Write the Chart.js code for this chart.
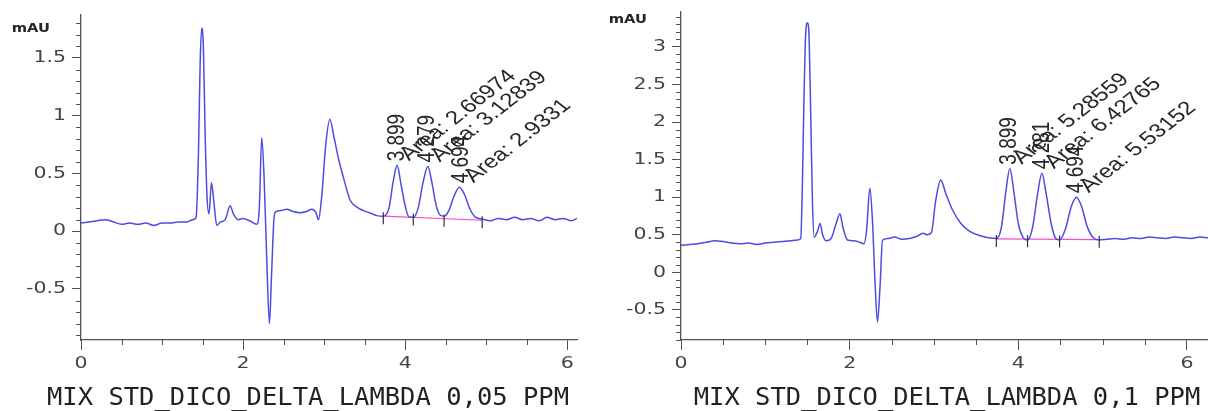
<!DOCTYPE html>
<html>
<head>
<meta charset="utf-8">
<script src="https://cdn.jsdelivr.net/npm/chart.js@4.4.1/dist/chart.umd.min.js"></script>
<style>
  html, body { margin: 0; padding: 0; background: #ffffff; }
  #wrap { position: relative; width: 1208px; height: 411px; overflow: hidden; background: #fff; }
  #c1 { position: absolute; left: 0; top: 0; }
  #c2 { position: absolute; left: 600px; top: 0; }
</style>
</head>
<body>
<div id="wrap">
  <canvas id="c1" width="600" height="411"></canvas>
  <canvas id="c2" width="608" height="411"></canvas>
</div>
<script>
// ---------------- DATA ----------------
// Panel 1 : MIX STD_DICO_DELTA_LAMBDA 0,05 PPM
const leftTime = [0.00,0.10,0.20,0.30,0.40,0.50,0.60,0.70,0.80,0.90,1.00,1.10,1.20,1.30,1.38,1.42,1.45,1.47,1.49,1.51,1.53,1.555,1.58,1.61,1.64,1.675,1.72,1.78,1.84,1.88,1.94,2.00,2.08,2.17,2.20,2.23,2.26,2.29,2.325,2.35,2.38,2.40,2.47,2.54,2.62,2.70,2.78,2.85,2.90,2.93,2.97,3.02,3.07,3.12,3.18,3.24,3.32,3.40,3.48,3.56,3.65,3.73,3.80,3.85,3.90,3.95,4.00,4.05,4.10,4.16,4.22,4.28,4.33,4.38,4.43,4.48,4.54,4.60,4.67,4.73,4.80,4.87,4.95,5.05,5.15,5.25,5.35,5.45,5.55,5.65,5.75,5.85,5.95,6.05,6.12];
const leftSignal = [0.07,0.08,0.09,0.10,0.08,0.06,0.07,0.06,0.07,0.05,0.07,0.07,0.08,0.08,0.10,0.12,0.70,1.45,1.76,1.60,0.90,0.30,0.15,0.42,0.25,0.05,0.08,0.10,0.22,0.15,0.10,0.11,0.09,0.06,0.20,0.81,0.45,-0.20,-0.80,-0.40,0.10,0.165,0.18,0.19,0.17,0.16,0.17,0.19,0.16,0.10,0.30,0.75,0.97,0.82,0.62,0.46,0.27,0.21,0.18,0.16,0.135,0.13,0.20,0.42,0.57,0.40,0.22,0.12,0.12,0.20,0.42,0.56,0.42,0.23,0.14,0.13,0.18,0.30,0.38,0.32,0.19,0.12,0.105,0.09,0.11,0.10,0.12,0.10,0.11,0.09,0.12,0.10,0.11,0.09,0.11];
const leftPeakRT = [3.899, 4.279, 4.694];
const leftPeakArea = [2.66974, 3.12839, 2.9331];
const leftBounds = [3.73, 4.10, 4.48, 4.95];
const leftBaseX = [3.73, 4.95];
const leftBaseY = [0.13, 0.095];
const leftYTicks = [-0.5, 0, 0.5, 1, 1.5];
const leftTitle = "MIX STD_DICO_DELTA_LAMBDA 0,05 PPM";

// Panel 2 : MIX STD_DICO_DELTA_LAMBDA 0,1 PPM
const rightTime = [0.00,0.10,0.20,0.30,0.40,0.50,0.60,0.70,0.80,0.90,1.00,1.10,1.20,1.30,1.38,1.42,1.44,1.46,1.48,1.50,1.52,1.54,1.56,1.58,1.62,1.65,1.68,1.72,1.78,1.84,1.885,1.92,1.975,2.05,2.12,2.17,2.20,2.24,2.27,2.30,2.33,2.36,2.39,2.46,2.53,2.62,2.71,2.80,2.87,2.92,2.97,3.02,3.08,3.14,3.22,3.32,3.42,3.54,3.65,3.74,3.80,3.85,3.90,3.95,4.00,4.06,4.11,4.17,4.23,4.28,4.33,4.39,4.44,4.49,4.56,4.63,4.69,4.75,4.82,4.89,4.96,5.05,5.15,5.25,5.35,5.45,5.55,5.65,5.75,5.85,5.95,6.05,6.15,6.25];
const rightSignal = [0.36,0.37,0.38,0.40,0.42,0.41,0.39,0.38,0.39,0.37,0.39,0.40,0.41,0.42,0.43,0.45,1.20,2.40,3.20,3.32,3.10,2.00,0.90,0.47,0.55,0.65,0.50,0.42,0.45,0.65,0.78,0.60,0.43,0.42,0.40,0.38,0.55,1.12,0.70,-0.10,-0.66,-0.20,0.43,0.45,0.47,0.44,0.45,0.48,0.52,0.50,0.53,0.95,1.23,1.05,0.83,0.65,0.55,0.49,0.46,0.45,0.60,1.05,1.38,1.05,0.65,0.46,0.43,0.60,1.05,1.32,1.05,0.65,0.46,0.43,0.58,0.88,1.00,0.88,0.60,0.46,0.43,0.44,0.45,0.44,0.46,0.45,0.47,0.46,0.45,0.47,0.46,0.45,0.47,0.46];
const rightPeakRT = [3.899, 4.281, 4.694];
const rightPeakArea = [5.28559, 6.42765, 5.53152];
const rightBounds = [3.74, 4.11, 4.49, 4.96];
const rightBaseX = [3.74, 4.96];
const rightBaseY = [0.445, 0.435];
const rightYTicks = [-0.5, 0, 0.5, 1, 1.5, 2, 2.5, 3];
const rightTitle = "MIX STD_DICO_DELTA_LAMBDA 0,1 PPM";

const xTicks = [0, 2, 4, 6];
const yUnit = "mAU";

// ---------------- helpers ----------------
function pts(xs, ys) { return xs.map((x, i) => ({ x: x, y: ys[i] })); }

const AXIS_COLOR = '#505050';
const LABEL_COLOR = '#444444';
const STRETCH = 1.28;   // the reference picture is widened horizontally

function stretchedText(ctx, text, x, y, align, baseline, font, color) {
  ctx.save();
  ctx.translate(x, y);
  ctx.scale(STRETCH, 1);
  ctx.font = font;
  ctx.fillStyle = color;
  ctx.textAlign = align;
  ctx.textBaseline = baseline;
  ctx.fillText(text, 0, 0);
  ctx.restore();
}

const chromPlugin = {
  id: 'chrom',
  afterDatasetsDraw(chart, args, o) {
    const ctx = chart.ctx;
    const xs = chart.scales.x, ys = chart.scales.y;
    // peak boundary marks
    ctx.save();
    ctx.strokeStyle = '#333';
    ctx.lineWidth = 1.2;
    o.bounds.forEach(b => {
      const t = (b - o.baseX[0]) / (o.baseX[1] - o.baseX[0]);
      const by = o.baseY[0] + t * (o.baseY[1] - o.baseY[0]);
      const px = xs.getPixelForValue(b), py = ys.getPixelForValue(by);
      ctx.beginPath();
      ctx.moveTo(px, py - 4);
      ctx.lineTo(px, py + 8);
      ctx.stroke();
    });
    ctx.restore();
    // peak annotations
    ctx.save();
    ctx.fillStyle = '#262626';
    ctx.font = '19px "Liberation Sans", Arial, sans-serif';
    o.rt.forEach((rt, i) => {
      let top = -Infinity;
      o.time.forEach((t, k) => { if (Math.abs(t - rt) < 0.06 && o.signal[k] > top) top = o.signal[k]; });
      const px = xs.getPixelForValue(rt), py = ys.getPixelForValue(top);
      ctx.save();
      ctx.translate(px, py - 4);
      ctx.scale(STRETCH, 1);
      ctx.rotate(-Math.PI / 2);
      ctx.textAlign = 'left';
      ctx.textBaseline = 'middle';
      ctx.fillText(rt.toFixed(3), 0, 0);
      ctx.restore();
      ctx.save();
      ctx.translate(px + 12, py - 4);
      ctx.scale(STRETCH, 1);
      ctx.rotate(-Math.PI / 4);
      ctx.textAlign = 'left';
      ctx.textBaseline = 'alphabetic';
      ctx.fillText('Area: ' + String(o.area[i]), 0, 0);
      ctx.restore();
    });
    ctx.restore();
  },
  afterDraw(chart, args, o) {
    const ctx = chart.ctx;
    const xs = chart.scales.x, ys = chart.scales.y;
    const ca = chart.chartArea;
    ctx.save();
    ctx.strokeStyle = AXIS_COLOR;
    ctx.lineWidth = 1;
    // minor y ticks every 0.1
    const y0 = Math.ceil(ys.min * 10), y1 = Math.floor(ys.max * 10);
    for (let k = y0; k <= y1; k++) {
      if (k % 5 === 0) continue;
      const py = Math.round(ys.getPixelForValue(k / 10)) + 0.5;
      ctx.beginPath(); ctx.moveTo(ca.left - 5, py); ctx.lineTo(ca.left, py); ctx.stroke();
    }
    // minor x ticks every 0.5
    const x0 = Math.ceil(xs.min * 2), x1 = Math.floor(xs.max * 2);
    for (let k = x0; k <= x1; k++) {
      if (k % 4 === 0) continue;
      const px = Math.round(xs.getPixelForValue(k / 2)) + 0.5;
      ctx.beginPath(); ctx.moveTo(px, ca.bottom); ctx.lineTo(px, ca.bottom + 5); ctx.stroke();
    }
    ctx.restore();
    // tick labels (positions from the library's scales)
    const tickFont = '16px "DejaVu Sans", sans-serif';
    ys.ticks.forEach(t => {
      stretchedText(ctx, String(t.value), ca.left - 15, ys.getPixelForValue(t.value), 'right', 'middle', tickFont, LABEL_COLOR);
    });
    xs.ticks.forEach(t => {
      stretchedText(ctx, String(t.value), xs.getPixelForValue(t.value), ca.bottom + 24, 'center', 'middle', tickFont, LABEL_COLOR);
    });
    // unit label
    stretchedText(ctx, yUnit, ca.left + o.unitDX, ca.top + o.unitDY, 'right', 'middle', 'bold 11.5px "DejaVu Sans", sans-serif', '#262626');
    // panel title
    ctx.save();
    ctx.fillStyle = '#222';
    ctx.font = '25.5px "DejaVu Sans Mono", monospace';
    ctx.textAlign = 'center';
    ctx.textBaseline = 'alphabetic';
    ctx.fillText(o.title, o.titleX, o.titleY);
    ctx.restore();
  }
};

function makeChart(id, cfg) {
  return new Chart(document.getElementById(id), {
    type: 'line',
    data: {
      datasets: [
        {
          data: pts(cfg.time, cfg.signal),
          borderColor: '#4c4ce2',
          borderWidth: 1.5,
          pointRadius: 0,
          fill: false,
          cubicInterpolationMode: 'monotone'
        },
        {
          data: pts(cfg.baseX, cfg.baseY),
          borderColor: '#f050cc',
          borderWidth: 1.2,
          pointRadius: 0,
          fill: false
        }
      ]
    },
    options: {
      responsive: false,
      animation: false,
      devicePixelRatio: 1,
      layout: { padding: { left: 0, right: cfg.padRight, top: cfg.padTop, bottom: 0 } },
      plugins: {
        legend: { display: false },
        tooltip: { enabled: false },
        title: { display: false },
        chrom: {
          time: cfg.time, signal: cfg.signal, rt: cfg.rt, area: cfg.area,
          bounds: cfg.bounds, baseX: cfg.baseX, baseY: cfg.baseY,
          title: cfg.title, titleX: cfg.titleX, titleY: 405,
          unitDX: cfg.unitDX, unitDY: cfg.unitDY
        }
      },
      scales: {
        x: {
          type: 'linear',
          min: 0, max: cfg.xMax,
          afterBuildTicks: s => { s.ticks = xTicks.map(v => ({ value: v })); },
          afterFit: s => { s.height = 71; },
          grid: { drawOnChartArea: false, drawTicks: true, tickLength: 10, color: AXIS_COLOR, lineWidth: 1 },
          border: { display: true, color: AXIS_COLOR, width: 1.3 },
          ticks: { color: 'rgba(0,0,0,0)', padding: 6, font: { family: 'DejaVu Sans', size: 16 }, maxRotation: 0, autoSkip: false, callback: v => String(v) }
        },
        y: {
          type: 'linear',
          min: cfg.yMin, max: cfg.yMax,
          afterBuildTicks: s => { s.ticks = cfg.yTicks.map(v => ({ value: v })); },
          afterFit: s => { s.width = 81; },
          grid: { drawOnChartArea: false, drawTicks: true, tickLength: 9, color: AXIS_COLOR, lineWidth: 1 },
          border: { display: true, color: AXIS_COLOR, width: 1.3 },
          ticks: { color: 'rgba(0,0,0,0)', padding: 4, font: { family: 'DejaVu Sans', size: 12 }, autoSkip: false, callback: v => String(v) }
        }
      }
    },
    plugins: [chromPlugin]
  });
}

makeChart('c1', {
  time: leftTime, signal: leftSignal, rt: leftPeakRT, area: leftPeakArea,
  bounds: leftBounds, baseX: leftBaseX, baseY: leftBaseY, yTicks: leftYTicks,
  title: leftTitle, titleX: 308, unitDX: -31, unitDY: 14,
  xMax: 6.12, yMin: -0.942, yMax: 1.872, padRight: 23, padTop: 15
});
makeChart('c2', {
  time: rightTime, signal: rightSignal, rt: rightPeakRT, area: rightPeakArea,
  bounds: rightBounds, baseX: rightBaseX, baseY: rightBaseY, yTicks: rightYTicks,
  title: rightTitle, titleX: 347, unitDX: -34, unitDY: 8,
  xMax: 6.25, yMin: -0.90, yMax: 3.464, padRight: 0, padTop: 12
});
</script>
</body>
</html>
